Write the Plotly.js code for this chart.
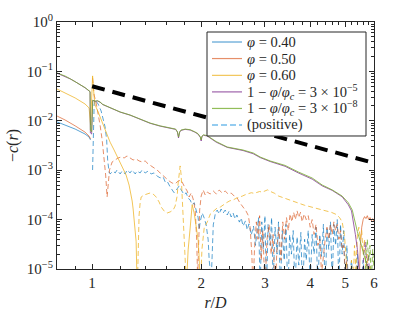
<!DOCTYPE html>
<html>
<head>
<meta charset="utf-8">
<script src="https://cdn.plot.ly/plotly-3.0.1.min.js"></script>
<style>html,body{margin:0;padding:0;background:#fff;}#chart{width:415px;height:313px;}</style>
</head>
<body>
<div id="chart"></div>
<script>
// ---- data: [r/D, -c(r)] pairs; null = break ----
const blueNeg = [[0.80,0.0095],[0.842,0.0082],[0.898,0.0068],[0.956,0.0054],[0.981,0.0047],[0.99,0.0041]];
const bluePos = [[1.003,0.00101],[1.006,0.00256],[1.010,0.0082],[1.013,0.0209],[1.019,0.0264],[1.039,0.0219],[1.059,0.0158],[1.072,0.0114],[1.086,0.0075],[1.097,0.0041],[1.104,0.0016],[1.114,0.00092],[1.121,0.00084],[1.143,0.00096],[1.158,0.00088],[1.172,0.00101],[1.195,0.00084],[1.210,0.00096],[1.234,0.00084],[1.249,0.00101],[1.273,0.00088],[1.290,0.00101],[1.315,0.00084],[1.331,0.00096],[1.357,0.00088],[1.374,0.00101],[1.401,0.00088],[1.428,0.00096],[1.455,0.00084],[1.483,0.00088],[1.512,0.00076],[1.541,0.0007],[1.571,0.00073],[1.591,0.00058],[1.611,0.0006],[1.642,0.00046],[1.663,0.0004],[1.684,0.00035],[1.717,0.00042],[1.739,0.00048],[1.761,0.0004],[1.795,0.00032],[1.818,0.00035],[1.841,0.00027],[1.865,0.00025],[1.889,0.0002],[1.913,0.00022],[1.938,0.00016],[1.962,0.00011],[1.975,0.000062],[1.987,0.000089],[2.013,0.000136],[2.039,0.000108],[2.065,0.000078],[2.091,0.000039],[2.105,0.000015],[2.118,0.000006],[2.132,0.000006],[2.145,0.000019],[2.16,0.000078],[2.19,0.000136],[2.214,0.000156],[2.243,0.00013],[2.27,0.000164],[2.30,0.000136],[2.33,0.000156],[2.36,0.000124],[2.39,0.000149],[2.42,0.000113],[2.45,0.000136],[2.48,0.000103],[2.51,0.000124],[2.55,0.000089],[2.58,0.000108],[2.61,0.000074],[2.65,0.000094],[2.68,0.000062],[2.71,0.000082],[2.75,0.000049],[2.79,0.000074],[2.825,0.00003],[2.86,0.000068],
 [2.88,1.1e-4],[2.91,4e-6],[2.94,9e-5],[2.97,2.5e-5],[3.00,1.2e-4],[3.03,3e-6],[3.06,8e-5],[3.10,3e-5],[3.13,1.1e-4],[3.16,5e-6],[3.20,7e-5],[3.24,2e-5],[3.27,9e-5],[3.31,4e-6],[3.35,6e-5],[3.39,1.5e-5],[3.43,8e-5],[3.47,3e-6],[3.51,5e-5],[3.55,2e-5],[3.59,6e-5],[3.63,4e-6],[3.68,4.5e-5],[3.72,1.2e-5],[3.77,5.5e-5],[3.81,3e-6],[3.86,4e-5],[3.90,1.5e-5],[3.95,6e-5],[4.00,5e-6],[4.05,5e-5],[4.10,2e-5],[4.15,7e-5],[4.20,4e-6],[4.25,5e-5],[4.30,1.8e-5],[4.35,8e-5],[4.40,3e-6],[4.45,7e-5],[4.50,2.5e-5],[4.55,9e-5],[4.60,5e-6],[4.65,8e-5],[4.70,3e-5],[4.75,1e-4],[4.80,4e-6],[4.85,8e-5],[4.90,2e-5],[4.95,6e-5],[5.00,3e-6],[5.05,3e-5],[5.10,4e-6],[5.20,1.5e-5],[5.30,3e-6],[5.40,2e-5],[5.50,3e-6],[5.60,1.5e-5],[5.70,3e-6]];

const orangeNeg = [[0.80,0.0125],[0.842,0.0104],[0.898,0.0079],[0.956,0.0059],[0.981,0.0049],[0.99,0.0043],null,
 [5.45,3e-6],[5.50,3e-5],[5.55,7e-5],[5.60,1e-4],[5.65,1.15e-4],[5.70,1.05e-4],[5.75,1.2e-4],[5.80,1.0e-4],[5.85,1.1e-4],[5.90,9.5e-5],[5.95,1.05e-4],[6.0,9e-5]];
const orangePos = [[1.003,0.0735],[1.013,0.0333],[1.026,0.0229],[1.039,0.0144],[1.052,0.0082],[1.066,0.0041],[1.079,0.00185],[1.090,0.0008],[1.100,0.000287],[1.107,0.0005],[1.117,0.00101],[1.136,0.00147],[1.158,0.00161],[1.180,0.00177],[1.203,0.00185],[1.226,0.00177],[1.249,0.00194],[1.273,0.00177],[1.298,0.00161],[1.323,0.00169],[1.348,0.00154],[1.374,0.00147],[1.401,0.00154],[1.428,0.00134],[1.455,0.00122],[1.483,0.00111],[1.512,0.00101],[1.541,0.000878],[1.571,0.000763],[1.601,0.000695],[1.632,0.000604],[1.663,0.00055],[1.695,0.00053],[1.728,0.000604],[1.761,0.00063],[1.795,0.000479],[1.830,0.000379],[1.853,0.000287],[1.877,0.000346],[1.901,0.000261],[1.926,0.000156],[1.944,0.0000386],[1.956,0.000006],[1.968,0.0000306],[1.981,0.000156],[2.000,0.0003],[2.026,0.000397],[2.052,0.000315],[2.078,0.000362],[2.118,0.00033],[2.160,0.000379],[2.202,0.00033],[2.243,0.000397],[2.286,0.000346],[2.33,0.000379],[2.375,0.00033],[2.42,0.000346],[2.467,0.0003],[2.514,0.000274],[2.56,0.000217],[2.61,0.00018],[2.66,0.000149],
 [2.70,1.2e-4],[2.73,7e-5],[2.76,2e-5],[2.78,4e-6],[2.81,3e-5],[2.84,9e-5],[2.87,4e-5],[2.90,1.2e-4],[2.93,1.5e-5],[2.96,6e-5],[3.00,4e-6],[3.04,4e-5],[3.08,8e-5],[3.12,2e-5],[3.16,5e-5],[3.20,3e-6],[3.24,3e-5],[3.28,7e-5],[3.32,1.5e-5],[3.36,9e-5],[3.40,4e-5],[3.44,1.1e-4],[3.48,6e-5],[3.52,1.3e-4],[3.56,9e-5],[3.60,1.4e-4],[3.64,1e-4],[3.68,1.5e-4],[3.72,1.1e-4],[3.76,1.4e-4],[3.80,9e-5],[3.85,1.3e-4],[3.90,1e-4],[3.95,1.2e-4],[4.00,7e-5],[4.05,1e-4],[4.10,5e-5],[4.15,8e-5],[4.20,3e-5],[4.25,4e-5],[4.30,8e-6],[4.35,2e-5],[4.40,4e-5],[4.45,7e-5],[4.50,4e-5],[4.55,8e-5],[4.60,5e-5],[4.65,9e-5],[4.70,6e-5],[4.75,8e-5],[4.80,4e-5],[4.85,6e-5],[4.90,2.5e-5],[4.95,3e-5],[5.00,8e-6],[5.05,1.5e-5],[5.10,3e-6],[5.20,8e-6],[5.30,3e-6],[5.40,1.2e-5],[5.45,3e-6]];

const yellowNeg = [[0.80,0.044],[0.842,0.0365],[0.898,0.029],[0.956,0.0219],[0.981,0.0182],[0.9905,0.0082],[1.003,0.081],[1.013,0.03],[1.019,0.0209],[1.039,0.0151],[1.066,0.0095],[1.093,0.00566],[1.121,0.0037],[1.150,0.00256],[1.180,0.00177],[1.210,0.00122],[1.241,0.0008],[1.265,0.0005],[1.282,0.00033],[1.290,0.000238],[1.298,0.000164],[1.306,0.000108],[1.315,0.0000676],[1.323,0.000036],[1.330,0.000006],null,
 [1.824,0.000006],[1.841,0.0000243],[1.865,0.0000676],[1.889,0.0002],[1.913,0.000136],[1.938,0.0000676],[1.962,0.0000386],[1.975,0.000017],[1.985,0.000006]];
const yellowPos = [[1.335,0.000006],[1.340,0.0000386],[1.348,0.000124],[1.357,0.000217],[1.366,0.000287],[1.392,0.000315],[1.419,0.00033],[1.446,0.000346],[1.474,0.00033],[1.502,0.000287],[1.531,0.000227],[1.551,0.00018],[1.581,0.000149],[1.611,0.000136],[1.642,0.000143],[1.674,0.000156],[1.695,0.000188],[1.717,0.0003],[1.728,0.00055],[1.739,0.00101],[1.750,0.00122],[1.761,0.0008],[1.772,0.000315],[1.795,0.000078],[1.807,0.0000243],[1.818,0.000006],null,
 [1.99,4e-6],[2.01,2.5e-5],[2.04,7e-5],[2.08,9e-5],[2.12,1.3e-4],[2.17,1.5e-4],[2.21,1.7e-4],[2.26,1.8e-4],[2.30,2.0e-4],[2.35,2.2e-4],[2.40,2.4e-4],[2.45,2.5e-4],[2.50,2.7e-4],[2.55,2.9e-4],[2.60,3.0e-4],[2.65,3.2e-4],[2.70,3.3e-4],[2.75,3.5e-4],[2.80,3.4e-4],[2.85,3.6e-4],[2.90,3.7e-4],[2.95,3.6e-4],[3.00,3.8e-4],[3.05,4.0e-4],[3.11,3.7e-4],[3.19,3.4e-4],[3.27,3.0e-4],[3.31,2.9e-4],[3.36,2.8e-4],[3.45,2.6e-4],[3.55,2.45e-4],[3.65,2.25e-4],[3.75,2.1e-4],[3.86,1.95e-4],[3.97,1.85e-4],[4.08,1.75e-4],[4.20,1.68e-4],[4.32,1.6e-4],[4.45,1.5e-4],[4.58,1.4e-4],[4.72,1.27e-4],[4.82,1.1e-4],[4.90,9e-5],[4.97,5e-5],[5.02,2e-5],[5.05,4e-6],null,
 [5.15,3e-6],[5.20,1.5e-5],[5.25,4e-6],[5.30,3e-5],[5.35,1e-5],[5.40,5e-5],[5.45,7e-5],[5.50,4e-5],[5.55,6e-5],[5.60,2e-5],[5.65,4e-5],[5.70,1e-5],[5.75,2e-5],[5.80,4e-6],[5.85,1.2e-5],[5.90,3e-6]];

const purpleNeg = [[0.80,0.092],[0.842,0.080],[0.87,0.0705],[0.898,0.062],[0.927,0.054],[0.956,0.0467],[0.981,0.0402],[0.987,0.0388],[0.989,0.0057],[0.997,0.0054],[1.004,0.026],[1.019,0.0248],[1.035,0.0252],[1.052,0.0238],[1.070,0.0213],[1.093,0.0198],[1.121,0.0188],[1.195,0.015],[1.273,0.013],[1.357,0.0108],[1.446,0.0089],[1.541,0.0078],[1.642,0.0071],[1.70,0.0067],[1.72,0.0059],[1.732,0.0045],[1.745,0.0059],[1.76,0.0064],[1.807,0.0067],[1.865,0.0065],[1.92,0.0059],[1.96,0.0054],[1.99,0.0046],[2.0,0.0039],[2.01,0.0048],[2.03,0.0051],[2.08,0.0049],[2.2,0.0037],[2.36,0.0029],[2.61,0.0025],[2.785,0.00215],[2.91,0.0018],[3.10,0.0015],[3.41,0.0012],[3.71,0.00088],[4.05,0.00066],[4.32,0.00048],[4.60,0.00039],[4.90,0.00029],[5.095,0.0002],[5.2,0.00015],[5.26,0.000095],[5.33,0.00005],[5.40,0.000025],[5.46,0.000012],[5.50,0.000005]];
const purplePos = [[5.55,3e-6],[5.62,2e-5],[5.68,3.5e-5],[5.74,1e-5],[5.80,2e-5],[5.85,3e-6]];

const greenNeg = [[0.80,0.093],[0.842,0.0807],[0.87,0.071],[0.898,0.0625],[0.927,0.0543],[0.956,0.047],[0.981,0.0405],[0.987,0.039],[0.989,0.0065],[0.997,0.006],[1.004,0.026],[1.019,0.025],[1.035,0.0255],[1.052,0.024],[1.070,0.0215],[1.093,0.020],[1.121,0.019],[1.195,0.0151],[1.273,0.0131],[1.357,0.0109],[1.446,0.0090],[1.541,0.0079],[1.642,0.0072],[1.70,0.0068],[1.72,0.0060],[1.732,0.0047],[1.745,0.0060],[1.76,0.0065],[1.807,0.0068],[1.865,0.0066],[1.92,0.0060],[1.96,0.0055],[1.99,0.0047],[2.0,0.0041],[2.01,0.0049],[2.03,0.0052],[2.08,0.0050],[2.2,0.0038],[2.36,0.00295],[2.61,0.00256],[2.785,0.00223],[2.91,0.00185],[3.10,0.00154],[3.41,0.00125],[3.71,0.00092],[4.05,0.000695],[4.32,0.0005],[4.60,0.0004],[4.90,0.0003],[5.095,0.00022],[5.226,0.000156],[5.293,0.0000984],[5.395,0.000058],[5.50,0.000036],[5.607,0.000022],[5.75,0.000011],[5.86,0.000005]];
const greenPos = [[5.65,3e-6],[5.70,2e-5],[5.75,4e-5],[5.80,1.5e-5],[5.85,3e-5],[5.90,5e-6],[5.95,2.5e-5],[6.0,1e-5]];

const guideR = [1, 6];
const guideV = [0.05, 0.0014];

const xTicks = [1, 2, 3, 4, 5, 6];
const xTickText = ['1', '2', '3', '4', '5', '6'];
const xMinor = [0.9, 1.2, 1.4, 1.6, 1.8, 2.2, 2.4, 2.6, 2.8, 3.2, 3.4, 3.6, 3.8, 4.2, 4.4, 4.6, 4.8, 5.2, 5.4, 5.6, 5.8];
const yTicks = [1e-5, 1e-4, 1e-3, 1e-2, 1e-1, 1];
const yTickText = ['10<sup>−5</sup>', '10<sup>−4</sup>', '10<sup>−3</sup>', '10<sup>−2</sup>', '10<sup>−1</sup>', '10<sup>0</sup>'];
const yMinor = [];
[1e-5, 1e-4, 1e-3, 1e-2, 1e-1].forEach(d => { for (let k = 2; k <= 9; k++) yMinor.push(+(k * d).toPrecision(3)); });

const legendLabels = [
  '<i>φ</i> = 0.40',
  '<i>φ</i> = 0.50',
  '<i>φ</i> = 0.60',
  '1 − <i>φ</i>/<i>φ</i><sub><i>c</i></sub> = 3 × 10<sup>−5</sup>',
  '1 − <i>φ</i>/<i>φ</i><sub><i>c</i></sub> = 3 × 10<sup>−8</sup>',
  '(positive)'
];
const colors = {
  blue: 'rgba(0,114,189,0.65)',
  orange: 'rgba(217,83,25,0.65)',
  yellow: 'rgba(237,177,32,0.75)',
  purple: 'rgba(126,47,142,0.75)',
  green: 'rgba(119,172,48,0.8)'
};
const legendColors = [colors.blue, colors.orange, colors.yellow, colors.purple, colors.green, 'rgba(77,170,230,0.8)'];
const legendDashed = [false, false, false, false, false, true];

function xs(a) { return a.map(p => p ? p[0] : null); }
function ys(a) { return a.map(p => p ? p[1] : null); }
function tr(data, color, dashed) {
  return {
    x: xs(data), y: ys(data), type: 'scatter', mode: 'lines',
    line: { color: color, width: 1, dash: dashed ? '5px,3px' : 'solid' },
    showlegend: false, connectgaps: false, hoverinfo: 'skip'
  };
}

const traces = [
  tr(blueNeg, colors.blue, false),
  tr(bluePos, colors.blue, true),
  tr(orangeNeg, colors.orange, false),
  tr(orangePos, colors.orange, true),
  tr(yellowNeg, colors.yellow, false),
  tr(yellowPos, colors.yellow, true),
  tr(purpleNeg, colors.purple, false),
  tr(purplePos, colors.purple, true),
  tr(greenNeg, colors.green, false),
  tr(greenPos, colors.green, true),
  { x: guideR, y: guideV, type: 'scatter', mode: 'lines', showlegend: false,
    line: { color: '#000', width: 4, dash: '13px,8px' }, hoverinfo: 'skip' }
];

const axisCol = '#262626';
const FONT = 'Liberation Serif, Times New Roman, serif';

// legend box drawn in paper coordinates (plot area = [0,1] x [0,1])
const box = { x0: 0.4732, x1: 0.9748, y0: 0.5385, y1: 0.9595 };
const rowY = [0.919, 0.852, 0.784, 0.717, 0.650, 0.583];
const shapes = [{ type: 'rect', xref: 'paper', yref: 'paper', x0: box.x0, x1: box.x1, y0: box.y0, y1: box.y1,
  fillcolor: '#fff', line: { color: axisCol, width: 1 }, layer: 'above' }];
const annotations = [];
rowY.forEach((yy, i) => {
  shapes.push({ type: 'line', xref: 'paper', yref: 'paper', x0: 0.489, x1: 0.5836, y0: yy, y1: yy, layer: 'above',
    line: { color: legendColors[i], width: legendDashed[i] ? 1.5 : 1.2, dash: legendDashed[i] ? '6px,3px' : 'solid' } });
  annotations.push({ xref: 'paper', yref: 'paper', x: 0.593, y: yy, xanchor: 'left', yanchor: 'middle',
    text: legendLabels[i], showarrow: false, font: { family: FONT, size: 14.5, color: axisCol } });
});

const layout = {
  width: 415, height: 313,
  margin: { l: 57, r: 41, t: 22, b: 44 },
  paper_bgcolor: '#fff', plot_bgcolor: '#fff',
  font: { family: FONT, size: 15, color: axisCol },
  showlegend: false,
  shapes: shapes, annotations: annotations,
  xaxis: {
    type: 'log', range: [Math.log10(0.8), Math.log10(6)],
    tickmode: 'array', tickvals: xTicks, ticktext: xTickText,
    ticks: 'inside', ticklen: 5, tickwidth: 1, tickcolor: axisCol,
    showline: true, linecolor: axisCol, linewidth: 1, mirror: 'allticks',
    showgrid: false, zeroline: false,
    tickfont: { family: FONT, size: 15, color: axisCol },
    minor: { tickmode: 'array', tickvals: xMinor, ticks: 'inside', ticklen: 3, tickcolor: axisCol, showgrid: false },
    title: { text: '<i>r</i>/<i>D</i>', font: { family: FONT, size: 16, color: axisCol }, standoff: 6 }
  },
  yaxis: {
    type: 'log', range: [-5, 0],
    tickmode: 'array', tickvals: yTicks, ticktext: yTickText,
    ticks: 'inside', ticklen: 5, tickwidth: 1, tickcolor: axisCol,
    showline: true, linecolor: axisCol, linewidth: 1, mirror: 'allticks',
    showgrid: false, zeroline: false,
    tickfont: { family: FONT, size: 15, color: axisCol },
    minor: { tickmode: 'array', tickvals: yMinor, ticks: 'inside', ticklen: 3, tickcolor: axisCol, showgrid: false },
    title: { text: '−<i>c</i>(<i>r</i>)', font: { family: FONT, size: 16, color: axisCol }, standoff: 4 }
  }
};

Plotly.newPlot('chart', traces, layout, { staticPlot: true, displayModeBar: false });
</script>
</body>
</html>
